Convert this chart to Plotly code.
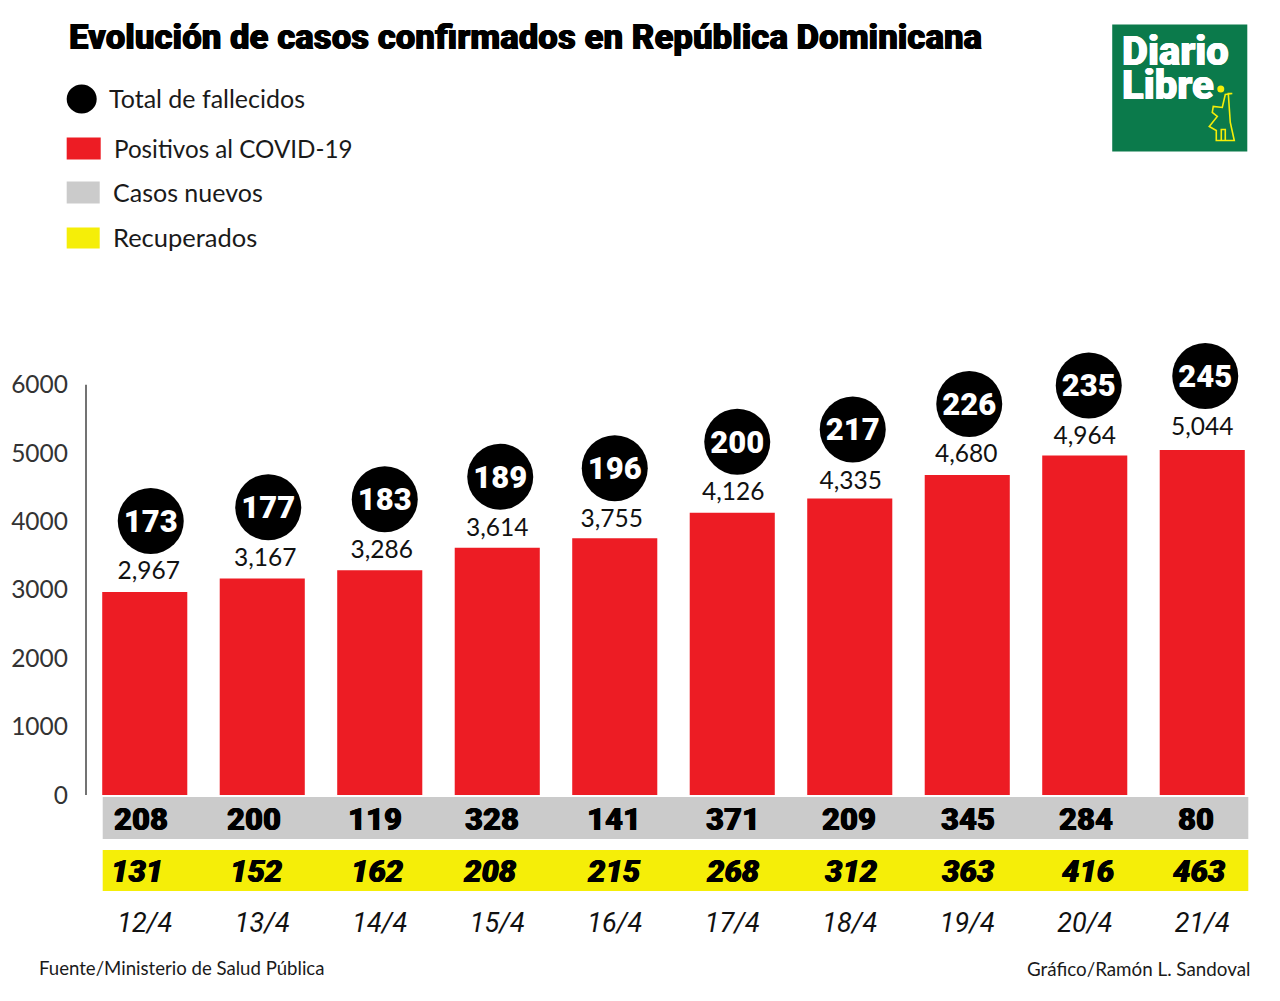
import plotly.graph_objects as go

fechas = ['12/4', '13/4', '14/4', '15/4', '16/4', '17/4', '18/4', '19/4', '20/4', '21/4']
positivos = [2967, 3167, 3286, 3614, 3755, 4126, 4335, 4680, 4964, 5044]
fallecidos = [173, 177, 183, 189, 196, 200, 217, 226, 235, 245]
nuevos = [208, 200, 119, 328, 141, 371, 209, 345, 284, 80]
recuperados = [131, 152, 162, 208, 215, 268, 312, 363, 416, 463]
y_ticks = [0, 1000, 2000, 3000, 4000, 5000, 6000]

# small hand placement of the labels, in pixels from the bar centre / bar top
dx_circulo = [6, 6, 5, 3, 0, 5, 3, 2, 4, 3]
dy_circulo = [71, 71, 71, 71, 70, 71, 69, 71, 70, 74]
dx_positivo = [4, 3, 2, 0, -3, 1, 1, -1, 0, 0]
dy_positivo = [19, 19, 18, 18, 17, 19, 16, 19, 18, 21]
dx_nuevo = [-4, -8, -5, -5, -1, 1, -1, 1, 1, -6]
dx_recup = [-8, -6, -3, -7, -1, 1, 1, 1, 3, -3]

W, H = 1280, 1001
Y_MAX = 6200
L, R, B = 86.3, 1260.7, 795
PASO = (R - L) / 10
ESCALA = 410 / 6000
T = B - Y_MAX * ESCALA

ROJO, GRIS, AMARILLO, VERDE = '#ed1c24', '#cbcbcb', '#f5ee08', '#0b7a4b'
FUENTE = 'Lato'
NEGRITA = 'Roboto'
# roboto black is still lighter than the original face
GRUESO_NEGRO = '0.5px 0 0 #000, -0.5px 0 0 #000'
GRUESO_BLANCO = '0.5px 0 0 #fff, -0.5px 0 0 #fff'


def px(x):
    return (x - L) / (R - L)


def py(y):
    return (B - y) / (B - T)


def dy(p):
    return p / ESCALA


def idx(lista):
    return [i + d / PASO for i, d in enumerate(lista)]


fig = go.Figure()

fig.add_trace(go.Bar(x=list(range(10)), y=positivos, marker_color=ROJO, marker_line_width=0,
                     name='Positivos al COVID-19'))

fig.add_trace(go.Scatter(
    x=idx(dx_positivo), y=[v + dy(d) for v, d in zip(positivos, dy_positivo)], mode='text',
    text=[f'{v:,}' for v in positivos],
    textfont=dict(family=FUENTE, size=24.5, color='#111111'),
))
y_circulo = [v + dy(d) for v, d in zip(positivos, dy_circulo)]
fig.add_trace(go.Scatter(
    x=idx(dx_circulo), y=y_circulo, mode='markers', cliponaxis=False,
    marker=dict(size=66, color='#000000', line_width=0),
    name='Total de fallecidos',
))
fig.add_trace(go.Scatter(
    x=idx(dx_circulo), y=[v - dy(3) for v in y_circulo], mode='text', cliponaxis=False,
    text=[str(v) for v in fallecidos],
    textfont=dict(family=NEGRITA, size=31, color='#ffffff', weight=900),
))


def caja(x0, y0, x1, y1, color):
    return dict(type='rect', xref='paper', yref='paper', x0=px(x0), x1=px(x1), y0=py(y0), y1=py(y1),
                fillcolor=color, line_width=0, layer='below')


def texto(x, y, s, size, anchor='left', color='#1a1a1a', family=FUENTE, **font):
    return dict(xref='paper', yref='paper', x=px(x), y=py(y), text=s, showarrow=False,
                xanchor=anchor, yanchor='middle',
                font=dict(family=family, size=size, color=color, **font))


def fila(valores, desplaz, y, **font):
    # the two rows under the bars sit outside the y range, so they are annotations
    return [dict(xref='x', yref='paper', x=xv, y=py(y), text=str(v), showarrow=False,
                 xanchor='center', yanchor='middle',
                 font=dict(family=NEGRITA, size=31, color='#000000', weight=900,
                           shadow=GRUESO_NEGRO, **font))
            for xv, v in zip(idx(desplaz), valores)]


# statue on the logo
estatua = [(1216, 141), (1234, 141), (1230, 123), (1228, 94), (1232, 94), (1225, 95), (1222, 108),
           (1213, 107), (1212, 113), (1217, 117), (1209, 127), (1216, 131)]
piernas = [(1221, 141), (1221, 130), (1225, 130), (1225, 141)]


def camino(puntos, cerrar=True):
    d = 'M ' + ' L '.join(f'{px(x):.5f} {py(y):.5f}' for x, y in puntos)
    return d + (' Z' if cerrar else '')


shapes = [
    caja(103, 797, 1248, 839, GRIS),
    caja(103, 850, 1248, 891, AMARILLO),
    # y axis line stops at 6000, the range goes further so the circles are kept
    dict(type='line', xref='paper', yref='y', x0=0, x1=0, y0=0, y1=6000,
         line=dict(color='#444444', width=1.5)),
    dict(type='circle', xref='paper', yref='paper', x0=px(67), x1=px(97), y0=py(85), y1=py(114),
         fillcolor='#000000', line_width=0),
    caja(67, 138, 101, 160, ROJO),
    caja(67, 182, 100, 204, GRIS),
    caja(67, 228, 100, 249, AMARILLO),
    caja(1112, 25, 1247, 152, VERDE),
    dict(type='path', xref='paper', yref='paper', path=camino(estatua),
         line=dict(color=AMARILLO, width=1.6)),
    dict(type='path', xref='paper', yref='paper', path=camino(piernas, False),
         line=dict(color=AMARILLO, width=1.6)),
    dict(type='circle', xref='paper', yref='paper', x0=px(1217), x1=px(1224), y0=py(86), y1=py(93),
         fillcolor=AMARILLO, line_width=0),
]

annotations = [
    texto(67, 38, 'Evolución de casos confirmados en República Dominicana', 34.8, color='#000000',
          family=NEGRITA, weight=900, shadow=GRUESO_NEGRO),
    texto(107, 99, 'Total de fallecidos', 25),
    texto(112, 149, 'Positivos al COVID-19', 24.2),
    texto(111, 192, 'Casos nuevos', 25),
    texto(111, 237, 'Recuperados', 25.5),
    texto(37, 968, 'Fuente/Ministerio de Salud Pública', 18.6),
    texto(1252, 968, 'Gráfico/Ramón L. Sandoval', 18.8, anchor='right'),
    texto(1120, 52, 'Diario', 40, color='#ffffff', family=NEGRITA, weight=900, shadow=GRUESO_BLANCO),
    texto(1120, 86, 'Libre', 40, color='#ffffff', family=NEGRITA, weight=900, shadow=GRUESO_BLANCO),
] + fila(nuevos, dx_nuevo, 819) + fila(recuperados, dx_recup, 871, style='italic')

fig.update_layout(
    width=W, height=H,
    margin=dict(l=L, r=W - R, t=T, b=H - B, pad=0),
    paper_bgcolor='white', plot_bgcolor='white',
    bargap=0.276, showlegend=False,
    shapes=shapes, annotations=annotations,
    font=dict(family=FUENTE),
)
fig.update_xaxes(
    range=[-0.5, 9.5], tickmode='array', tickvals=list(range(10)), ticktext=fechas,
    showgrid=False, zeroline=False, showline=False, ticks='', automargin=False,
    ticklabelstandoff=109,
    tickfont=dict(family='Roboto', size=27, color='#111111', style='italic', weight=400),
)
fig.update_yaxes(
    range=[0, Y_MAX], tickmode='array', tickvals=y_ticks, showgrid=False, zeroline=False,
    showline=False, ticks='', automargin=False,
    ticklabelstandoff=17, tickfont=dict(family=FUENTE, size=24.5, color='#333333'),
)

fig.write_html("out.html", config=dict(displayModeBar=False),
               post_script="document.body.style.margin='0';")
